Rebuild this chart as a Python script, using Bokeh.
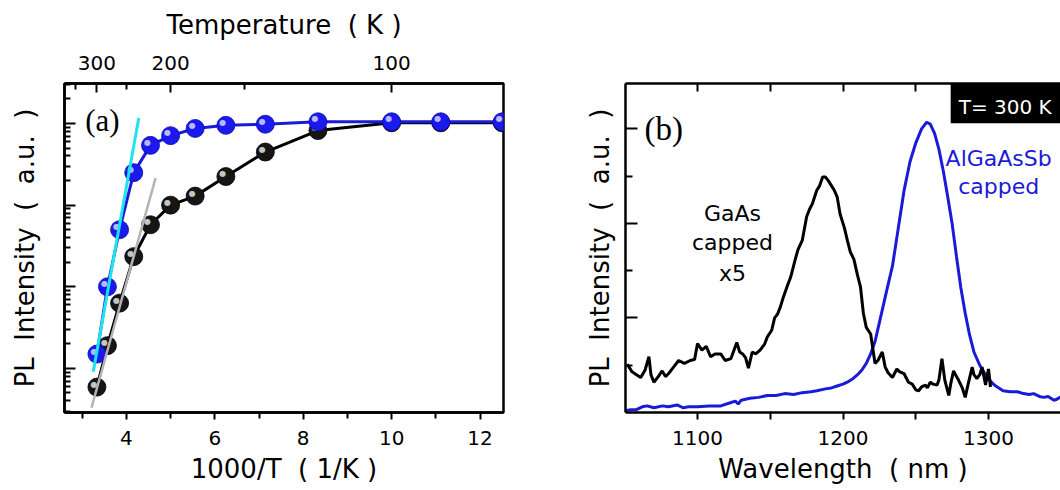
from bokeh.plotting import figure
from bokeh.layouts import row
from bokeh.models import (LinearAxis, Range1d, FixedTicker, CustomJSTickFormatter,
                          Label, BoxAnnotation, ColumnDataSource)
from bokeh.core.properties import value
from bokeh.embed import file_html
from bokeh.resources import INLINE

# ---------------- data: panel (a) ----------------
temperature_K = [300, 280, 260, 240, 220, 200, 180, 160, 140, 120, 100, 90, 80]
pl_algaassb_capped = [1.5e-3, 1.0e-2, 5.0e-2, 0.25, 0.54, 0.71, 0.87, 0.95, 0.98, 1.05, 1.05, 1.05, 1.05]
pl_gaas_capped = [5.9e-4, 1.9e-3, 6.3e-3, 0.0234, 0.0575, 0.10, 0.129, 0.224, 0.447, 0.82, 1.02, 1.02, 1.02]
fit_algaassb_x = [3.25, 4.28]
fit_algaassb_y = [9.1e-4, 1.17]
fit_gaas_x = [3.21, 4.66]
fit_gaas_y = [3.3e-4, 0.214]
top_temperature_ticks = [300, 200, 100]
top_temperature_minor = [350, 250, 150]
bottom_invT_ticks = [4, 6, 8, 10, 12]
bottom_invT_minor = [3, 5, 7, 9, 11]

# ---------------- data: panel (b) ----------------
wl_algaassb = [1050.5, 1054, 1058, 1062, 1065.4, 1070, 1076, 1080, 1086, 1090, 1094, 1100,
               1108, 1116, 1122, 1126, 1128, 1130, 1136, 1142, 1148, 1154, 1160, 1166, 1172,
               1178, 1182, 1188, 1192, 1196, 1200, 1204, 1207, 1210, 1213, 1216, 1219, 1222,
               1225, 1229, 1234, 1238, 1242, 1246, 1250, 1254, 1257.5, 1260, 1263, 1266,
               1269, 1272, 1275, 1278, 1281, 1284, 1287, 1290, 1294, 1298, 1302, 1305, 1310,
               1315, 1320, 1324, 1328, 1331, 1335, 1338, 1341, 1345, 1347, 1350]
pl_algaassb = [0.02, 0.03, 0.03, 0.06, 0.07, 0.05, 0.07, 0.06, 0.08, 0.05, 0.06, 0.06,
               0.07, 0.07, 0.10, 0.12, 0.09, 0.13, 0.15, 0.16, 0.18, 0.18, 0.20, 0.19, 0.21,
               0.22, 0.23, 0.25, 0.26, 0.28, 0.30, 0.33, 0.36, 0.40, 0.45, 0.52, 0.62, 0.75,
               0.95, 1.22, 1.55, 1.95, 2.35, 2.65, 2.85, 3.00, 3.07, 3.05, 2.95, 2.78,
               2.55, 2.28, 2.00, 1.65, 1.32, 1.05, 0.82, 0.64, 0.50, 0.40, 0.32, 0.28, 0.23,
               0.22, 0.22, 0.20, 0.19, 0.20, 0.17, 0.16, 0.17, 0.13, 0.14, 0.17]
wl_gaas_x5 = [1051.7, 1055, 1058, 1061, 1064, 1066.6, 1068, 1070, 1073, 1075.7, 1078, 1080,
              1083, 1087, 1091, 1095, 1098, 1100, 1103, 1106, 1109, 1112, 1116, 1119, 1123,
              1127, 1129, 1131, 1133, 1135, 1137.6, 1140, 1143, 1146, 1148, 1151, 1153, 1155,
              1157, 1159, 1162, 1164, 1167, 1169, 1172, 1175, 1177, 1179, 1182, 1184, 1186,
              1188, 1190, 1192, 1194, 1196, 1198, 1201, 1203, 1205, 1207.5, 1210, 1212, 1214,
              1216, 1219, 1222, 1224, 1227, 1229, 1231, 1234, 1237, 1239, 1242, 1245, 1247.6,
              1250, 1252, 1254, 1256.7, 1258, 1260, 1262, 1264.7, 1266, 1268, 1270, 1272.7,
              1274, 1276, 1278, 1279.5, 1282, 1284, 1286, 1288.8, 1290, 1292, 1294, 1295.6,
              1298, 1300, 1301.4]
pl_gaas_x5 = [0.51, 0.43, 0.40, 0.37, 0.45, 0.59, 0.40, 0.32, 0.38, 0.44, 0.38, 0.41,
              0.47, 0.55, 0.52, 0.55, 0.56, 0.73, 0.66, 0.70, 0.59, 0.62, 0.62, 0.55, 0.57,
              0.74, 0.64, 0.62, 0.58, 0.47, 0.64, 0.62, 0.66, 0.72, 0.80, 0.87, 1.00, 1.04,
              1.12, 1.22, 1.35, 1.43, 1.61, 1.72, 1.82, 2.07, 2.15, 2.21, 2.35, 2.40, 2.49,
              2.49, 2.45, 2.40, 2.35, 2.28, 2.10, 1.95, 1.82, 1.70, 1.62, 1.45, 1.33, 1.05,
              0.90, 0.83, 0.52, 0.55, 0.64, 0.48, 0.42, 0.37, 0.46, 0.43, 0.41, 0.32, 0.30,
              0.24, 0.23, 0.27, 0.29, 0.26, 0.32, 0.30, 0.29, 0.35, 0.57, 0.34, 0.18,
              0.30, 0.44, 0.38, 0.34, 0.26, 0.16, 0.30, 0.48, 0.40, 0.36, 0.40, 0.48,
              0.29, 0.46, 0.27]
wl_ticks = [1100, 1200, 1300]
wl_minor = [1150, 1250]
wl_top_ticks = [1100, 1150, 1200, 1250, 1300]
pl_b_ticks = [1, 2, 3]
pl_b_minor = [0.5, 1.5, 2.5]

# ---------------- styles ----------------
BLUE = "#1a1aee"
BLUE_LINE = "#1a1ad8"
CYAN = "#1ee4f0"
GRAY = "#b4b4b4"
SANS = "DejaVu Sans"
SERIF = "Liberation Serif"
AX_W = 2.5
S2 = "\u00a0\u00a0"   # wide gap used in the axis titles


def style_axis(ax, label_size="26px"):
    ax.axis_line_width = AX_W
    ax.axis_line_color = "black"
    ax.major_tick_line_width = 2
    ax.minor_tick_line_width = 2
    ax.major_tick_line_color = "black"
    ax.minor_tick_line_color = "black"
    ax.axis_label_text_font = SANS
    ax.axis_label_text_font_size = label_size
    ax.axis_label_text_font_style = "normal"
    ax.axis_label_text_color = "black"
    ax.major_label_text_font = SANS
    ax.major_label_text_font_size = "20px"
    ax.major_label_text_color = "black"


def hide_labels(ax):
    ax.major_label_text_font_size = "1px"
    ax.major_label_text_alpha = 0.0
    ax.major_label_standoff = 0


# ---------------- panel (a) ----------------
inv_T = [1000.0 / t for t in temperature_K]

p1 = figure(width=560, height=490, output_backend="svg", toolbar_location=None,
            x_range=Range1d(2.6, 12.53), y_range=Range1d(10 ** -3.54, 10 ** 0.49),
            y_axis_type="log", min_border_left=64, min_border_right=57,
            min_border_top=83, min_border_bottom=77)
p1.xgrid.visible = False
p1.ygrid.visible = False
p1.outline_line_color = "black"
p1.outline_line_width = AX_W
p1.background_fill_color = "white"
p1.border_fill_color = "white"

xb = p1.xaxis[0]
style_axis(xb)
xb.ticker = FixedTicker(ticks=bottom_invT_ticks, minor_ticks=bottom_invT_minor)
xb.axis_label = "1000/T" + S2 + "(" + "\u00a0" + "1/K" + "\u00a0" + ")"
xb.major_tick_in = 0
xb.major_tick_out = 7
xb.minor_tick_in = 0
xb.minor_tick_out = 6
xb.major_label_standoff = 11
xb.axis_label_standoff = 6

yl = p1.yaxis[0]
style_axis(yl)
decades = [10.0 ** k for k in range(-4, 2)]
yl.ticker = FixedTicker(ticks=decades,
                        minor_ticks=[m * d for d in decades for m in range(2, 10)])
yl.axis_label = "PL" + S2 + "Intensity" + S2 + "(" + S2 + "a.u." + S2 + ")"
hide_labels(yl)
yl.major_tick_in = 11
yl.major_tick_out = 0
yl.minor_tick_in = 6
yl.minor_tick_out = 0
yl.axis_label_standoff = 25

xt = LinearAxis(ticker=FixedTicker(ticks=[1000.0 / t for t in top_temperature_ticks],
                                   minor_ticks=[1000.0 / t for t in top_temperature_minor]),
                formatter=CustomJSTickFormatter(code="return (1000 / tick).toFixed(0);"))
style_axis(xt)
xt.axis_label = "Temperature" + S2 + "(" + "\u00a0" + "K" + "\u00a0" + ")"
xt.major_tick_in = 9
xt.major_tick_out = 0
xt.minor_tick_in = 6
xt.minor_tick_out = 0
xt.major_label_standoff = 14
xt.axis_label_standoff = 13
p1.add_layout(xt, "above")

src_gaas = ColumnDataSource(dict(x=inv_T, y=pl_gaas_capped))
src_alg = ColumnDataSource(dict(x=inv_T, y=pl_algaassb_capped))

p1.line("x", "y", source=src_gaas, line_color="black", line_width=3)
p1.scatter("x", "y", source=src_gaas, size=18, fill_color="#151515",
           line_color="black", line_width=0.8)
p1.text("x", "y", text=value("●"), source=src_gaas, text_font=value(SANS),
        text_font_size="8px", text_color="#c4c4c4", text_align="center",
        text_baseline="middle", x_offset=-3, y_offset=-3)

p1.line("x", "y", source=src_alg, line_color=BLUE_LINE, line_width=3)
p1.scatter("x", "y", source=src_alg, size=18, fill_color=BLUE,
           line_color="#0a0ab0", line_width=0.8)
p1.text("x", "y", text=value("●"), source=src_alg, text_font=value(SANS),
        text_font_size="8px", text_color="#b8b8ff", text_align="center",
        text_baseline="middle", x_offset=-3, y_offset=-3)

p1.line(fit_gaas_x, fit_gaas_y, line_color=GRAY, line_width=2.5)
p1.line(fit_algaassb_x, fit_algaassb_y, line_color=CYAN, line_width=3)

p1.add_layout(Label(x=3.07, y=1.09, text="(a)", text_font=SERIF,
                    text_font_size="31px", text_color="black",
                    text_baseline="alphabetic", text_align="left"))

# ---------------- panel (b) ----------------
p2 = figure(width=500, height=490, output_backend="svg", toolbar_location=None,
            x_range=Range1d(1050.5, 1349.5), y_range=Range1d(0, 3.48),
            min_border_left=65, min_border_right=0, min_border_top=83,
            min_border_bottom=78)
p2.xgrid.visible = False
p2.ygrid.visible = False
p2.outline_line_color = None
p2.background_fill_color = "white"
p2.border_fill_color = "white"

xb2 = p2.xaxis[0]
style_axis(xb2)
xb2.ticker = FixedTicker(ticks=wl_ticks, minor_ticks=wl_minor)
xb2.axis_label = "Wavelength" + S2 + "(" + "\u00a0" + "nm" + "\u00a0" + ")"
xb2.major_tick_in = 0
xb2.major_tick_out = 7
xb2.minor_tick_in = 0
xb2.minor_tick_out = 7
xb2.major_label_standoff = 11
xb2.axis_label_standoff = 6

yl2 = p2.yaxis[0]
style_axis(yl2)
yl2.ticker = FixedTicker(ticks=pl_b_ticks, minor_ticks=pl_b_minor)
yl2.axis_label = "PL" + S2 + "Intensity" + S2 + "(" + S2 + "a.u." + S2 + ")"
hide_labels(yl2)
yl2.major_tick_in = 12
yl2.major_tick_out = 0
yl2.minor_tick_in = 7
yl2.minor_tick_out = 0
yl2.axis_label_standoff = 11

xt2 = LinearAxis(ticker=FixedTicker(ticks=wl_top_ticks, minor_ticks=[1075]))
style_axis(xt2)
hide_labels(xt2)
xt2.major_tick_in = 8
xt2.major_tick_out = 0
xt2.minor_tick_in = 0
xt2.minor_tick_out = 0
p2.add_layout(xt2, "above")

p2.line(wl_algaassb, pl_algaassb, line_color=BLUE_LINE, line_width=3)
p2.line(wl_gaas_x5, pl_gaas_x5, line_color="black", line_width=3)

p2.add_layout(BoxAnnotation(left=1274, right=1349.5, bottom=3.06, top=3.48,
                            fill_color="black", fill_alpha=1.0, line_color=None))
p2.add_layout(Label(x=1311.5, y=3.23, text="T= 300 K", text_font=SANS,
                    text_font_size="20px", text_color="white",
                    text_align="center", text_baseline="alphabetic"))
p2.add_layout(Label(x=1063.5, y=3.0, text="(b)", text_font=SERIF,
                    text_font_size="33px", text_color="black",
                    text_baseline="alphabetic", text_align="left"))
for txt, yy in [("GaAs", 2.106), ("capped", 1.80), ("x5", 1.47)]:
    p2.add_layout(Label(x=1124, y=yy, text=txt, text_font=SANS,
                        text_font_size="22px", text_color="black",
                        text_align="center", text_baseline="alphabetic"))
for txt, yy in [("AlGaAsSb", 2.69), ("capped", 2.39)]:
    p2.add_layout(Label(x=1307, y=yy, text=txt, text_font=SANS,
                        text_font_size="22px", text_color=BLUE_LINE,
                        text_align="center", text_baseline="alphabetic"))

layout = row(p1, p2)
open("out.html", "w").write(file_html(layout, INLINE))
